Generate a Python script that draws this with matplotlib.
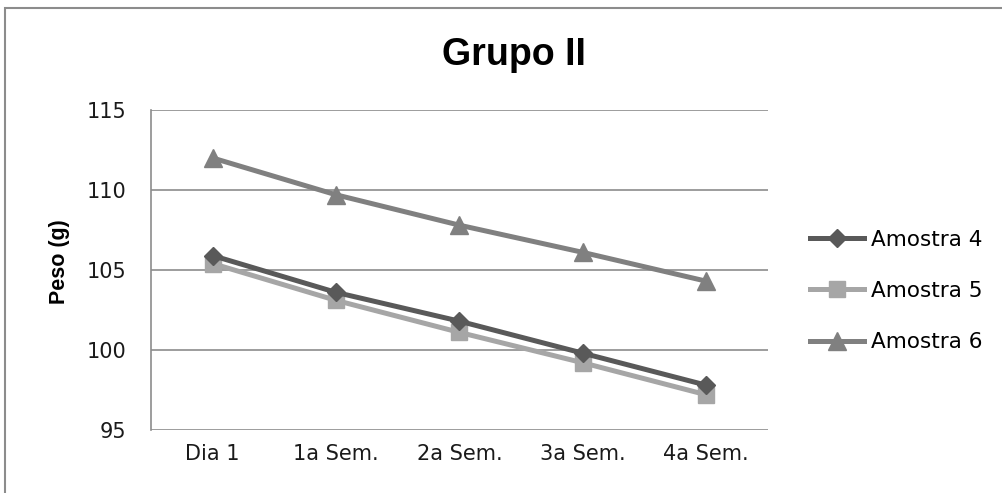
import matplotlib.pyplot as plt
from matplotlib.patches import Rectangle

categorias = ['Dia 1', '1a Sem.', '2a Sem.', '3a Sem.', '4a Sem.']
amostra4 = [105.9, 103.6, 101.8, 99.8, 97.8]
amostra5 = [105.4, 103.1, 101.1, 99.2, 97.2]
amostra6 = [112.0, 109.7, 107.8, 106.1, 104.3]
yticks = [95, 100, 105, 110, 115]

fig = plt.figure(figsize=(10.03, 4.93), dpi=100)
ax = fig.add_axes([0.1505, 0.1278, 0.6152, 0.6491])

x = range(len(categorias))
ax.plot(x, amostra4, color='#595959', lw=3.6, marker='D', ms=9, label='Amostra 4', zorder=3)
ax.plot(x, amostra5, color='#a6a6a6', lw=3.6, marker='s', ms=11, label='Amostra 5', zorder=2)
ax.plot(x, amostra6, color='#808080', lw=3.6, marker='^', ms=13, label='Amostra 6', zorder=3)

ax.set_xlim(-0.5, 4.5)
ax.set_ylim(95, 115)
ax.set_yticks(yticks)
ax.set_xticks(list(x))
ax.set_xticklabels(categorias)
ax.grid(axis='y', color='#8c8c8c', lw=1.2)
ax.set_axisbelow(True)
for s in ['top', 'right', 'bottom']:
    ax.spines[s].set_visible(False)
ax.spines['left'].set_color('#8c8c8c')
ax.spines['left'].set_linewidth(1.2)
ax.tick_params(axis='x', length=0, pad=10, labelsize=15)
ax.tick_params(axis='y', length=0, labelsize=15, pad=18)
for t in ax.get_xticklabels() + ax.get_yticklabels():
    t.set_fontfamily('DejaVu Sans')
    t.set_color('#1a1a1a')

fig.text(60 / 1003, 1 - 262 / 493, 'Peso (g)', rotation=90, ha='center', va='center',
         fontsize=15.5, fontweight='bold', family='Liberation Sans')
fig.text(514 / 1003, 1 - 55 / 493, 'Grupo II', ha='center', va='center', fontsize=27,
         fontweight='bold', family='Liberation Sans')

ax.legend(loc='center left', bbox_to_anchor=(791 / 1003, 1 - 291 / 493),
          bbox_transform=fig.transFigure, frameon=False,
          handlelength=2.5, labelspacing=1.45, handletextpad=0.3,
          prop={'family': 'DejaVu Sans', 'size': 15.5})

fig.patches.append(Rectangle((0.005, -0.01), 1.0, 0.994, transform=fig.transFigure,
                             fill=False, edgecolor='#8c8c8c', lw=1.5))

fig.savefig('out.png', dpi=100, facecolor='white')
